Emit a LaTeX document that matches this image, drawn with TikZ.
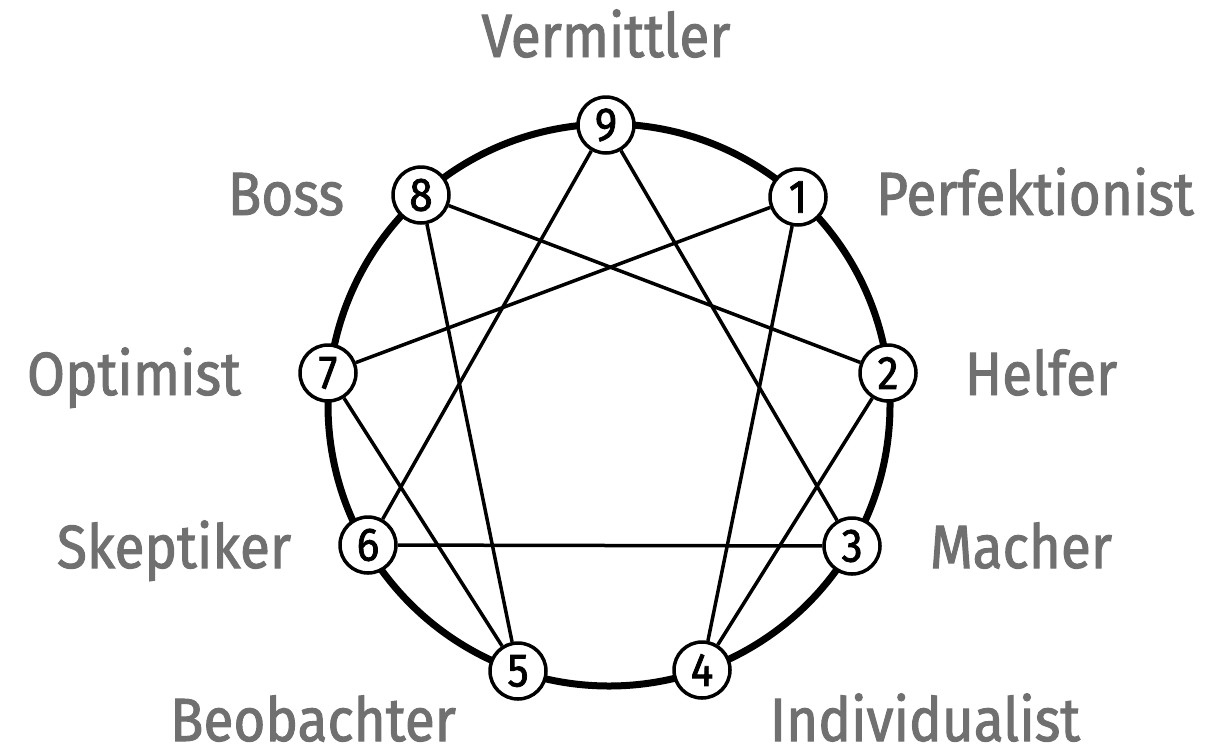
\documentclass[tikz,border=0pt]{standalone}
\usepackage{fontspec}
\setmainfont{Fira Sans}[FakeStretch=0.9,FakeBold=1.6]
\definecolor{lbl}{HTML}{707070}
\begin{document}
\begin{tikzpicture}[x=1pt,y=-1pt,
  pt/.style={circle,draw=black,line width=3.5pt,fill=white,minimum size=56pt,inner sep=0pt,font=\fontsize{47}{47}\selectfont},
  lab/.style={anchor=base,text=lbl,inner sep=0pt,text depth=0pt,font=\fontsize{61}{61}\selectfont},
  chord/.style={line width=3.5pt},
  ring/.style={line width=7pt}]
\useasboundingbox (0,0) rectangle (1230,750);
\coordinate (c) at (609,405);
\draw[ring] (c) circle[radius=281];
\node[pt] (n9) at (606,125) {9};
\node[pt] (n1) at (798,197) {1};
\node[pt] (n2) at (888,373) {2};
\node[pt] (n3) at (852,546) {3};
\node[pt] (n4) at (702,670) {4};
\node[pt] (n5) at (518,671) {5};
\node[pt] (n6) at (368,545) {6};
\node[pt] (n7) at (328,373) {7};
\node[pt] (n8) at (421,195) {8};
\draw[chord] (n9) -- (n3);
\draw[chord] (n9) -- (n6);
\draw[chord] (n6) -- (n3);
\draw[chord] (n1) -- (n4);
\draw[chord] (n4) -- (n2);
\draw[chord] (n2) -- (n8);
\draw[chord] (n8) -- (n5);
\draw[chord] (n5) -- (n7);
\draw[chord] (n7) -- (n1);
\node[lab] (l9) at (606,57) {Vermittler};
\node[lab] (l8) at (286,215) {Boss};
\node[lab] (l1) at (1035,215) {Perfektionist};
\node[lab] (l7) at (134,395) {Optimist};
\node[lab] (l2) at (1041,395) {Helfer};
\node[lab] (l6) at (174,568) {Skeptiker};
\node[lab] (l3) at (1021,568) {Macher};
\node[lab] (l5) at (313,741) {Beobachter};
\node[lab] (l4) at (925,741) {Individualist};
\end{tikzpicture}
\end{document}
